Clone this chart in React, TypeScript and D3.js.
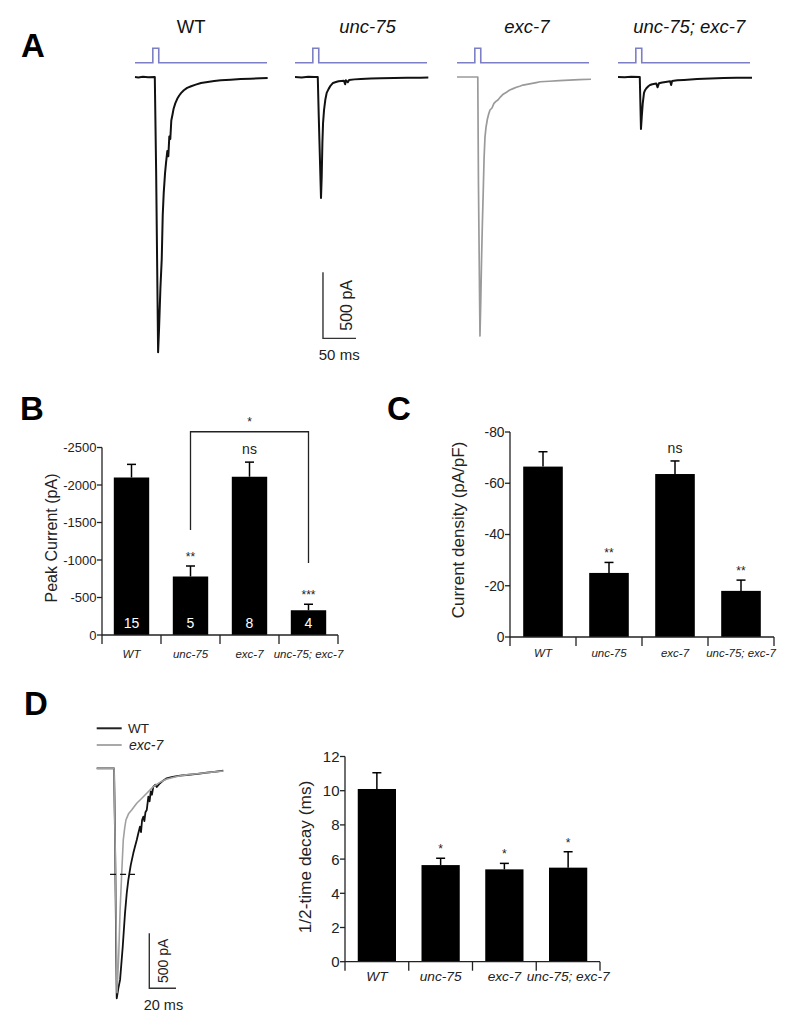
import React from 'react';
import * as d3 from 'd3';

const FONT = 'Liberation Sans, Arial, Helvetica, sans-serif';

// genotypes (same order in every panel)
const genotypes = ['WT', 'unc-75', 'exc-7', 'unc-75; exc-7'];

// A: evoked currents, [time ms, current pA]
const traceWT: [number, number][] = [
  [0, 0], [5, -3], [12, 2], [20, -2], [30, 0], [32, -700], [35, -2085], [36.5, -1900], [38.5, -1600],
  [40.5, -1380], [42, -1050], [43.5, -880], [45.5, -730], [47, -650], [49, -560], [50.5, -600],
  [52, -450], [53.5, -470], [55, -330], [57, -280], [58.5, -240], [61, -200], [64, -165], [67, -140],
  [70, -120], [74, -100], [79, -82], [85, -70], [92, -58], [100, -45], [110, -38], [120, -30],
  [130, -25], [145, -20], [160, -16], [175, -13], [190, -10], [201, -8],
];
const traceUnc75: [number, number][] = [
  [0, 0], [10, -3], [20, 2], [30, 0], [34.5, 0], [36, -300], [39.4, -917], [40.5, -750], [41.5, -500],
  [42.5, -350], [44, -250], [46, -170], [48, -120], [51, -90], [54, -65], [57.6, -45], [62, -38],
  [66, -32], [70, -30], [74, -28], [76, -55], [77, -25], [80, -40], [82, -22], [90, -18], [100, -15],
  [115, -12], [130, -10], [150, -8], [170, -6], [190, -5], [202, -4],
];
const traceExc7: [number, number][] = [
  [0, 0], [10, 0], [20, 0], [31.5, 0], [32.5, -800], [34.8, -1962], [36, -1700], [37.2, -1386],
  [38.5, -1100], [39.7, -879], [41, -620], [42.4, -455], [44, -380], [46, -320], [48, -280], [50, -250],
  [53, -235], [56, -200], [59, -185], [62, -174], [66, -150], [70, -130], [75, -115], [80, -98],
  [85, -88], [90, -78], [95, -70], [100, -61], [110, -52], [120, -42], [126, -36], [140, -32],
  [155, -28], [170, -24], [185, -20], [203, -17],
];
const traceDouble: [number, number][] = [
  [0, 0], [10, -2], [20, 2], [33, 0], [34.8, -394], [36, -300], [37.5, -200], [39.4, -121], [41, -100],
  [43, -85], [46, -70], [48.5, -61], [52, -55], [58, -50], [60, -78], [62, -48], [67, -42], [72, -38],
  [79, -33], [80.5, -60], [82, -30], [90, -25], [100, -22], [120, -15], [140, -12], [160, -8],
  [180, -6], [203, -5],
];
// light stimulus, [time ms, on/off]
const stimulus: [number, number][] = [[0, 0], [27, 0], [27, 1], [36, 1], [36, 0], [200, 0]];

// B: peak current (pA)
const peakMean = [-2100, -780, -2110, -330];
const peakSem = [-175, -140, -195, -80];
const peakN = ['15', '5', '8', '4'];
const peakSig = ['', '**', 'ns', '***'];
const peakTicks = [0, -500, -1000, -1500, -2000, -2500];

// C: current density (pA/pF)
const densMean = [-66.5, -25, -63.6, -18];
const densSem = [-5.8, -4.1, -5.1, -4.2];
const densSig = ['', '**', 'ns', '**'];
const densTicks = [0, -20, -40, -60, -80];

// D: WT vs exc-7 traces, [time ms, current pA]
const dTraceWT: [number, number][] = [
  [0, 0], [13, 0], [13.6, -500], [15, -2091], [16.2, -2000], [17.5, -1924], [19.5, -1622], [21.2, -1318],
  [22.5, -1136], [23.7, -1015], [25.5, -880], [27.4, -773], [28.5, -720], [30, -652], [31, -600],
  [32.4, -531], [33.2, -580], [34, -470], [34.9, -440], [35.7, -480], [36.5, -400], [37.5, -379],
  [38.7, -258], [39.6, -300], [40.5, -210], [41.4, -240], [42.4, -167], [44, -150], [45, -170],
  [47.4, -136], [50, -110], [52.4, -91], [56, -80], [60, -72], [64, -64], [67.4, -61], [72, -55],
  [77, -48], [82.4, -40], [88, -32], [94.8, -22],
];
const dTraceExc7: [number, number][] = [
  [0, 0], [13, 0], [13.6, -500], [15.2, -2040], [16.5, -1700], [17.5, -1300], [18.7, -964],
  [19.9, -652], [21, -540], [21.9, -470], [24, -410], [26.2, -379], [28, -350], [30, -318], [34, -270],
  [37.5, -227], [42.4, -167], [47, -130], [52, -100], [60, -75], [67, -60], [75, -50], [82, -40],
  [90, -30], [94.8, -24],
];
const halfDecayLevel = -964;

// D: 1/2-time decay (ms)
const decayMean = [10.1, 5.65, 5.4, 5.5];
const decaySem = [0.95, 0.4, 0.35, 0.93];
const decaySig = ['', '*', '*', '*'];
const decayTicks = [0, 2, 4, 6, 8, 10, 12];

type BarCfg = {
  left: number; right: number; bottom: number; top: number; domainTop: number;
  ticks: number[]; mean: number[]; sem: number[]; sig: string[]; n?: string[];
  title: string; titleX: number; titleY: number; titleSize: number;
  tickSize: number; catSize: number; catY: number;
};

function BarPanel(c: BarCfg) {
  const x = d3.scaleBand<string>().domain(genotypes).range([c.left, c.right])
    .paddingInner(0.4).paddingOuter(0.2);
  const y = d3.scaleLinear().domain([0, c.domainTop]).range([c.bottom, c.top]);
  const step = x.step();
  const bw = x.bandwidth();
  return (
    <g fontFamily={FONT}>
      {genotypes.map((g, i) => {
        const cx = (x(g) as number) + bw / 2;
        const errY = y(c.mean[i] + c.sem[i]);
        return (
          <g key={g}>
            <line x1={cx} x2={cx} y1={y(c.mean[i])} y2={errY} stroke="#000" strokeWidth={1.5} />
            <line x1={cx - 4.5} x2={cx + 4.5} y1={errY} y2={errY} stroke="#000" strokeWidth={1.5} />
            <rect x={x(g)} y={y(c.mean[i])} width={bw} height={y(0) - y(c.mean[i])} fill="#000" />
            {c.sig[i] && (
              <text x={cx} y={errY - (c.sig[i] === 'ns' ? 8 : 5)} textAnchor="middle"
                fontSize={c.sig[i] === 'ns' ? 14 : 12} fill="#222">{c.sig[i]}</text>
            )}
            {c.n && (
              <text x={cx} y={y(0) - 7} textAnchor="middle" fontSize={14} fill="#fff">{c.n[i]}</text>
            )}
            <text x={cx} y={c.catY} textAnchor="middle" fontSize={c.catSize} fontStyle="italic"
              fill="#222">{g}</text>
          </g>
        );
      })}
      <line x1={c.left} x2={c.left} y1={y(0)} y2={y(c.domainTop)} stroke="#222" strokeWidth={1.3} />
      {c.ticks.map((t) => (
        <g key={t}>
          <line x1={c.left - 5} x2={c.left} y1={y(t)} y2={y(t)} stroke="#222" strokeWidth={1.3} />
          <text x={c.left - 5.5} y={y(t)} dy="0.36em" textAnchor="end" fontSize={c.tickSize}
            fill="#222">{String(t)}</text>
        </g>
      ))}
      <line x1={c.left} x2={c.right} y1={y(0)} y2={y(0)} stroke="#222" strokeWidth={1.3} />
      {d3.range(genotypes.length + 1).map((k) => (
        <line key={k} x1={c.left + k * step} x2={c.left + k * step} y1={y(0)} y2={y(0) + 9}
          stroke="#222" strokeWidth={1.3} />
      ))}
      <text transform={`translate(${c.titleX},${c.titleY}) rotate(-90)`} textAnchor="middle"
        dominantBaseline="central" fontSize={c.titleSize} fill="#222">{c.title}</text>
    </g>
  );
}

export default function App() {
  // panel A: one time scale per trace, shared current scale
  const aStarts = [135, 295, 457, 618];
  const aTitleT = [85, 110, 106, 108];
  const aTraces = [traceWT, traceUnc75, traceExc7, traceDouble];
  const aColors = ['#111', '#111', '#9a9a9a', '#111'];
  const yA = d3.scaleLinear().domain([0, -500]).range([77, 143]);
  const yStim = d3.scaleLinear().domain([0, 1]).range([62.7, 48.3]);

  const xBar = d3.scaleLinear().domain([0, 200]).range([aStarts[1], aStarts[1] + 132]);

  // panel D traces
  const xD = d3.scaleLinear().domain([0, 100]).range([96.7, 230.2]);
  const yDt = d3.scaleLinear().domain([0, -500]).range([768.3, 823.3]);
  const lineD = d3.line<[number, number]>().x((d) => xD(d[0])).y((d) => yDt(d[1]));

  // peak-current bracket
  const yB = d3.scaleLinear().domain([0, -2500]).range([635, 447.5]);
  const xB = d3.scaleBand<string>().domain(genotypes).range([102, 338]).paddingInner(0.4).paddingOuter(0.2);
  const bL = (xB('unc-75') as number) + xB.bandwidth() / 2;
  const bR = (xB('unc-75; exc-7') as number) + xB.bandwidth() / 2;

  return (
    <svg width={800} height={1026} style={{ position: 'absolute', left: 0, top: 0, background: '#fff' }}>
      <rect width={800} height={1026} fill="#fff" />
      {/* panel letters */}
      <g fontFamily={FONT} fontWeight="bold" fontSize={33} fill="#000">
        <text x={21} y={57}>A</text>
        <text x={20} y={420}>B</text>
        <text x={387} y={420}>C</text>
        <text x={24} y={715}>D</text>
      </g>

      {/* A */}
      {aTraces.map((tr, i) => {
        const xs = d3.scaleLinear().domain([0, 200]).range([aStarts[i], aStarts[i] + 132]);
        const line = d3.line<[number, number]>().x((d) => xs(d[0])).y((d) => yA(d[1]));
        const stimLine = d3.line<[number, number]>().x((d) => xs(d[0])).y((d) => yStim(d[1]));
        return (
          <g key={i}>
            <text x={xs(aTitleT[i])} y={33} textAnchor="middle" fontFamily={FONT} fontSize={18.5}
              fontStyle={i === 0 ? 'normal' : 'italic'} fill="#111">{genotypes[i]}</text>
            <path d={stimLine(stimulus) as string} fill="none" stroke="#7c7fc6" strokeWidth={1.6} />
            <path d={line(tr) as string} fill="none" stroke={aColors[i]}
              strokeWidth={i === 2 ? 1.7 : 2} strokeLinejoin="round" />
          </g>
        );
      })}
      <path d={`M${xBar(42.4)},${yA(-1480)}V${yA(-1980)}H${xBar(92.4)}`} fill="none" stroke="#333" strokeWidth={1.4} />
      <text transform={`translate(${xBar(42.4) + 24},${yA(-1730)}) rotate(-90)`} textAnchor="middle"
        dominantBaseline="central" fontFamily={FONT} fontSize={16} fill="#222">500 pA</text>
      <text x={xBar(67)} y={360} textAnchor="middle" fontFamily={FONT} fontSize={15} fill="#222">50 ms</text>

      {/* B */}
      <BarPanel left={102} right={338} bottom={635} top={447.5} domainTop={-2500} ticks={peakTicks}
        mean={peakMean} sem={peakSem} sig={peakSig} n={peakN} title="Peak Current (pA)"
        titleX={51} titleY={538} titleSize={16} tickSize={13} catSize={11.5} catY={658} />
      <path d={`M${bL},${yB(-1400)}V${yB(-2710)}H${bR}V${yB(-960)}`} fill="none" stroke="#222" strokeWidth={1.3} />
      <text x={(bL + bR) / 2} y={yB(-2710) - 6} textAnchor="middle" fontFamily={FONT} fontSize={12} fill="#222">*</text>

      {/* C */}
      <BarPanel left={510} right={774} bottom={637} top={432} domainTop={-80} ticks={densTicks}
        mean={densMean} sem={densSem} sig={densSig} title="Current density (pA/pF)"
        titleX={458} titleY={530} titleSize={17} tickSize={13.8} catSize={11.5} catY={657} />

      {/* D traces */}
      <g>
        <line x1={96.7} x2={121.7} y1={728.3} y2={728.3} stroke="#222" strokeWidth={2} />
        <line x1={96.7} x2={121.7} y1={745} y2={745} stroke="#a0a0a0" strokeWidth={1.8} />
        <text x={128} y={733} fontFamily={FONT} fontSize={13.5} fill="#222">WT</text>
        <text x={129} y={750} fontFamily={FONT} fontSize={14} fontStyle="italic" fill="#222">exc-7</text>
        <path d={lineD(dTraceWT) as string} fill="none" stroke="#111" strokeWidth={1.8} strokeLinejoin="round" />
        <path d={lineD(dTraceExc7) as string} fill="none" stroke="#a0a0a0" strokeWidth={1.6} strokeLinejoin="round" />
        <line x1={xD(10)} x2={xD(28.7)} y1={yDt(halfDecayLevel)} y2={yDt(halfDecayLevel)}
          stroke="#111" strokeWidth={1.4} strokeDasharray="6,4" />
        <path d={`M${xD(39.4)},${yDt(-1500)}V${yDt(-2000)}H${xD(59.4)}`} fill="none" stroke="#333" strokeWidth={1.4} />
        <text transform={`translate(${xD(39.4) + 14},${yDt(-1750)}) rotate(-90)`} textAnchor="middle"
          dominantBaseline="central" fontFamily={FONT} fontSize={14} fill="#222">500 pA</text>
        <text x={xD(50)} y={1010} textAnchor="middle" fontFamily={FONT} fontSize={14.5} fill="#222">20 ms</text>
      </g>

      {/* D bars */}
      <BarPanel left={345} right={600} bottom={961.7} top={756.5} domainTop={12} ticks={decayTicks}
        mean={decayMean} sem={decaySem} sig={decaySig} title="1/2-time decay (ms)"
        titleX={305} titleY={857} titleSize={17.3} tickSize={15} catSize={13.7} catY={981} />
    </svg>
  );
}
